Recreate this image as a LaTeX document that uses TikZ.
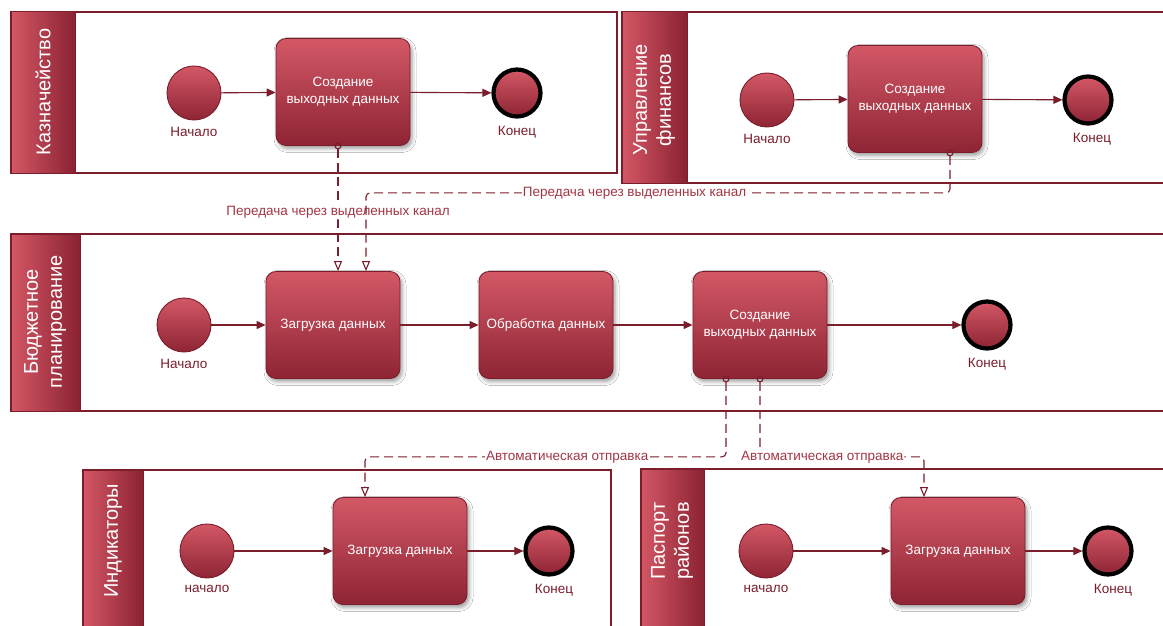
\documentclass[tikz,border=0pt]{standalone}
\usepackage{fontspec}
\setmainfont{Liberation Sans}
\usepackage{xcolor}
\usepackage{tikz}
\usetikzlibrary{arrows.meta,positioning,shadows.blur}
\definecolor{poolLine}{HTML}{7B1D2B}
\definecolor{headLite}{HTML}{D45765}
\definecolor{headDark}{HTML}{8A2232}
\definecolor{taskLite}{HTML}{D35866}
\definecolor{taskDark}{HTML}{8E2434}
\definecolor{msgText}{HTML}{A33643}
\tikzset{
  pool/.style={draw=poolLine, line width=2.2pt, fill=white},
  lanefill/.style={left color=headLite, right color=headDark, draw=poolLine, line width=1pt},
  lanetext/.style={rotate=90, text=white, font=\fontsize{20}{24}\selectfont, align=center},
  task/.style={draw=poolLine, line width=0.8pt, rounded corners=10pt, top color=taskLite,
               bottom color=taskDark, minimum width=134pt, minimum height=107pt,
               font=\fontsize{13.5}{17}\selectfont, text=white, align=center,
               blur shadow={shadow xshift=2pt, shadow yshift=-3pt, shadow blur radius=4pt}},
  startev/.style={circle, draw=poolLine, line width=0.9pt, top color=taskLite,
                  bottom color=taskDark, minimum size=54pt, inner sep=0pt},
  endev/.style={circle, draw=black, line width=4.2pt, top color=taskLite,
                bottom color=taskDark, minimum size=47pt, inner sep=0pt},
  evlabel/.style={font=\fontsize{13.5}{15}\selectfont, text=poolLine, inner sep=1pt},
  seq/.style={-{Triangle[length=9pt,width=8pt]}, draw=poolLine, line width=1.1pt},
  msg/.style={{Circle[open,length=7pt]}-{Triangle[open,length=10pt,width=8pt]}, draw=poolLine,
              line width=1.1pt, dash pattern=on 9pt off 5pt, rounded corners=4pt,
              shorten <=-3.5pt},
  msglbl/.style={fill=white, text=msgText, font=\fontsize{13.5}{15}\selectfont, inner sep=1pt}
}

\begin{document}
\begin{tikzpicture}[x=1pt, y=-1pt]
  \useasboundingbox (0,0) rectangle (1163,626);
  \clip (0,0) rectangle (1163,626);

  % pools
  \draw[pool] (11,12) rectangle (617,173);
  \path[lanefill] (11,12) rectangle (75,173);
  \node[lanetext] (kzName) at (43,92) {Казначейство};

  \draw[pool] (622,12) rectangle (1175,183);
  \path[lanefill] (622,12) rectangle (687,183);
  \node[lanetext] (ufName) at (654,100) {Управление\\финансов};

  \draw[pool] (11,234) rectangle (1175,411);
  \path[lanefill] (11,234) rectangle (80,411);
  \node[lanetext] (bpName) at (45,322) {Бюджетное\\планирование};

  \draw[pool] (83,470) rectangle (611,660);
  \path[lanefill] (83,470) rectangle (143,660);
  \node[lanetext] (indName) at (113,541) {Индикаторы};

  \draw[pool] (641,469) rectangle (1175,660);
  \path[lanefill] (641,469) rectangle (704,660);
  \node[lanetext] (ppName) at (672,541) {Паспорт\\районов};

  % Казначейство
  \node[startev] (kzStart) at (194,93) {};
  \node[evlabel, below=6pt of kzStart] (kzStartLbl) {Начало};
  \node[task] (kzTask) at (343,92) {Создание\\выходных данных};
  \node[endev] (kzEnd) at (517,93) {};
  \node[evlabel, below=6pt of kzEnd] (kzEndLbl) {Конец};
  \draw[seq] (kzStart) -- (kzTask);
  \draw[seq] (kzTask) -- (kzEnd);

  % Управление финансов
  \node[startev] (ufStart) at (767,100) {};
  \node[evlabel, below=6pt of ufStart] (ufStartLbl) {Начало};
  \node[task] (ufTask) at (915,99) {Создание\\выходных данных};
  \node[endev] (ufEnd) at (1088,100) {};
  \node[evlabel, below=6pt of ufEnd, xshift=4pt] (ufEndLbl) {Конец};
  \draw[seq] (ufStart) -- (ufTask);
  \draw[seq] (ufTask) -- (ufEnd);

  % Бюджетное планирование
  \node[startev] (bpStart) at (184,325) {};
  \node[evlabel, below=6pt of bpStart] (bpStartLbl) {Начало};
  \node[task] (bpLoad) at (333,325) {Загрузка данных};
  \node[task] (bpProc) at (546,325) {Обработка данных};
  \node[task] (bpOut) at (760,325) {Создание\\выходных данных};
  \node[endev] (bpEnd) at (987,325) {};
  \node[evlabel, below=6pt of bpEnd] (bpEndLbl) {Конец};
  \draw[seq] (bpStart) -- (bpLoad);
  \draw[seq] (bpLoad) -- (bpProc);
  \draw[seq] (bpProc) -- (bpOut);
  \draw[seq] (bpOut) -- (bpEnd);

  % Индикаторы
  \node[startev] (indStart) at (207,551) {};
  \node[evlabel, below=6pt of indStart] (indStartLbl) {начало};
  \node[task] (indTask) at (400,551) {Загрузка данных};
  \node[endev] (indEnd) at (549,551) {};
  \node[evlabel, below=6pt of indEnd, xshift=5pt] (indEndLbl) {Конец};
  \draw[seq] (indStart) -- (indTask);
  \draw[seq] (indTask) -- (indEnd);

  % Паспорт районов
  \node[startev] (ppStart) at (766,551) {};
  \node[evlabel, below=6pt of ppStart] (ppStartLbl) {начало};
  \node[task] (ppTask) at (958,551) {Загрузка данных};
  \node[endev] (ppEnd) at (1108,551) {};
  \node[evlabel, below=6pt of ppEnd, xshift=5pt] (ppEndLbl) {Конец};
  \draw[seq] (ppStart) -- (ppTask);
  \draw[seq] (ppTask) -- (ppEnd);

  % message flows
  \draw[msg] ([xshift=-5pt]kzTask.south) -- node[msglbl, pos=0.53] (kzMsg) {Передача через выделенных канал} ([xshift=5pt]bpLoad.north);
  \draw[msg] ([xshift=35pt]ufTask.south) -- ++(0,40) -| node[msglbl, pos=0.27] (ufMsg) {Передача через выделенных канал} ([xshift=33pt]bpLoad.north);
  \draw[msg] ([xshift=-34pt]bpOut.south) -- ++(0,78) -| node[msglbl, pos=0.22] (indMsg) {Автоматическая отправка} ([xshift=-35pt]indTask.north);
  \draw[msg] (bpOut.south) -- ++(0,78) -| node[msglbl, pos=0.19] (ppMsg) {Автоматическая отправка} ([xshift=-34pt]ppTask.north);
\end{tikzpicture}
\end{document}
